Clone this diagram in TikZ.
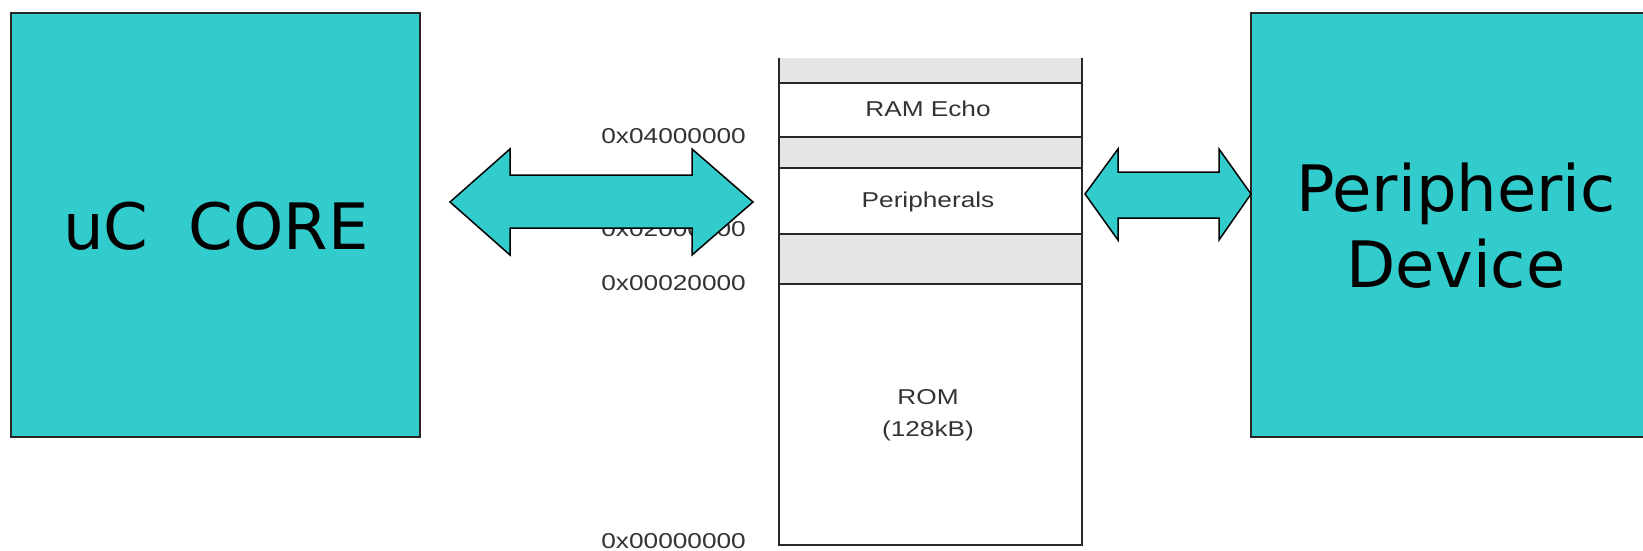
\documentclass[tikz,border=0pt]{standalone}
\usepackage{fontspec}
\newfontfamily\labfont{Liberation Sans}
\newfontfamily\bigfont{DejaVu Sans}
\definecolor{teal1}{RGB}{51,204,204}
\definecolor{band}{RGB}{230,230,230}
\definecolor{mline}{RGB}{40,40,40}
\newcommand\wide[1]{\scalebox{1.22}[1]{#1}}
\tikzset{
  block/.style={draw=black!85, line width=1.5pt, fill=teal1, inner sep=0pt, outer sep=0pt},
  bigtxt/.style={font=\bigfont\fontsize{64}{76}\selectfont, inner sep=0pt, align=center},
  addr/.style={font=\labfont\fontsize{21.5}{24}\selectfont, text=black!80, inner sep=0pt, anchor=east},
  memtxt/.style={font=\labfont\fontsize{21.5}{24}\selectfont, text=black!80, inner sep=0pt, anchor=base},
  memline/.style={draw=mline, line width=2.2pt},
  dblarrow/.style={draw=black, line width=1.5pt, fill=teal1, line join=miter}
}
\begin{document}
\begin{tikzpicture}[x=1pt,y=-1pt]
\useasboundingbox[fill=white] (0,0) rectangle (1643,551);
% blocks
\node[block, minimum width=409pt, minimum height=424pt] (core) at (215.5,225) {};
\node[bigtxt] (coretxt) at (216,226) {uC\ \ CORE};
\node[block, minimum width=409pt, minimum height=424pt] (dev) at (1455.5,225) {};
\node[bigtxt] (devtxt) at (1456,225.5) {Peripheric\\Device};
% memory map bands
\fill[band] (779,58) rectangle (1082,83);
\fill[band] (779,137) rectangle (1082,168);
\fill[band] (779,234) rectangle (1082,284);
\coordinate (mTL) at (779,58);
\coordinate (mTR) at (1082,58);
\coordinate (mBL) at (779,545);
\coordinate (mBR) at (1082,545);
\draw[memline, line join=miter] (mTL) -- (mBL) -- (mBR) -- (mTR);
\foreach \yy in {83,137,168,234,284} \draw[memline] (779,\yy) -- (1082,\yy);
\node[memtxt] (ramecho) at (928,116) {\wide{RAM Echo}};
\node[memtxt] (periph) at (928,207) {\wide{Peripherals}};
\node[memtxt] (rom) at (928,404) {\wide{ROM}};
\node[memtxt] (romsz) at (928,436) {\wide{(128kB)}};
% addresses
\node[addr] (a4) at (746,136) {\wide{0x04000000}};
\node[addr] (a2) at (746,229) {\wide{0x02000000}};
\node[addr] (a02) at (746,283) {\wide{0x00020000}};
\node[addr] (a0) at (746,541) {\wide{0x00000000}};
% left double arrow
\draw[dblarrow] (450,202) -- (510,149) -- (510,175) -- (692,175) -- (692,149) -- (753,202)
  -- (692,255) -- (692,228) -- (510,228) -- (510,255) -- cycle;
% right double arrow
\draw[dblarrow] (1085,194) -- (1118,149) -- (1118,172) -- (1219,172) -- (1219,149) -- (1251,194)
  -- (1219,240) -- (1219,218) -- (1118,218) -- (1118,240) -- cycle;
\end{tikzpicture}
\end{document}
